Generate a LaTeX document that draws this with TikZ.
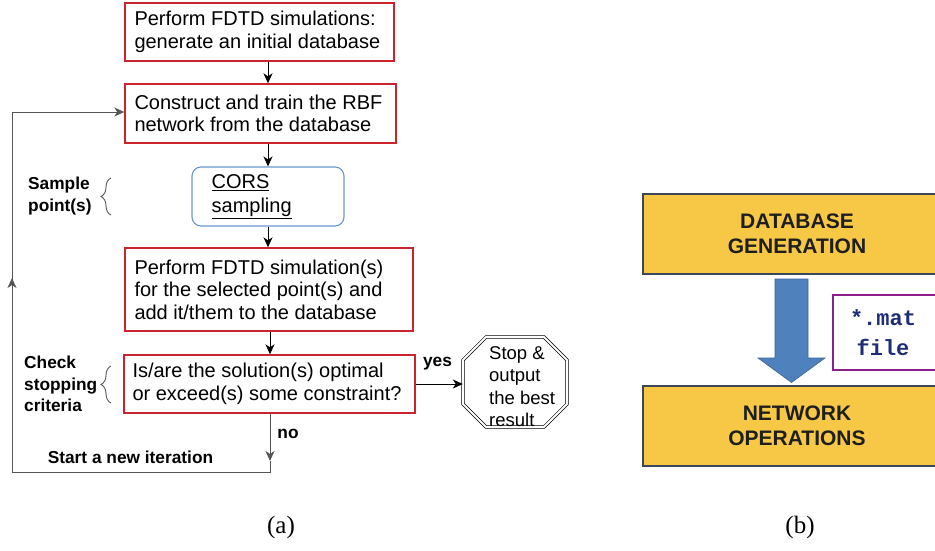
\documentclass[tikz,border=0pt]{standalone}
\usepackage{fontspec}
\setmainfont{Liberation Sans}
\newfontfamily\captionfont{Liberation Serif}
\newfontfamily\codefont{Liberation Mono}
\usetikzlibrary{arrows.meta,decorations.pathreplacing}

\definecolor{boxred}{RGB}{205,35,45}
\definecolor{corsblue}{RGB}{105,150,205}
\definecolor{goldfill}{RGB}{247,200,70}
\definecolor{slateedge}{RGB}{60,72,90}
\definecolor{arrowblue}{RGB}{79,129,189}
\definecolor{arrowedge}{RGB}{60,100,150}
\definecolor{matpurple}{RGB}{140,30,140}
\definecolor{matnavy}{RGB}{30,45,120}
\definecolor{loopgray}{RGB}{85,85,85}
\definecolor{inktext}{RGB}{30,30,30}

\begin{document}
\begin{tikzpicture}[x=1pt,y=-1pt,
  stepbox/.style={draw=boxred, line width=1.4pt, inner sep=0pt},
  corsbox/.style={draw=corsblue, line width=1.1pt, rounded corners=9pt, inner sep=0pt},
  steptext/.style={anchor=west, align=left, inner sep=0pt,
    font=\fontsize{20}{22.5}\selectfont},
  sidelabel/.style={font=\bfseries\fontsize{17.3}{21.5}\selectfont, align=left, inner sep=0pt},
  flowarrow/.style={draw=black, line width=0.9pt, -{Stealth[length=10pt,width=9pt,inset=3pt]}},
  loopline/.style={draw=loopgray, line width=0.9pt},
  looparrow/.style={loopline, -{Stealth[length=10pt,width=9pt,inset=3pt]}},
  sidebrace/.style={draw=loopgray, line width=0.9pt, decorate, decoration={brace, amplitude=10pt}},
  goldbox/.style={draw=slateedge, fill=goldfill, line width=1.5pt, minimum width=308pt,
    minimum height=80pt, align=center, text=inktext,
    font=\bfseries\fontsize{21}{25}\selectfont},
  caption/.style={font=\captionfont\fontsize{25}{28}\selectfont, inner sep=0pt}
]
\useasboundingbox (0,0) rectangle (935,550);
\clip (0,0) rectangle (935,550);

% ---------------- (a) iterative flowchart ----------------
\node[stepbox, minimum width=269pt, minimum height=58pt] (b1) at (259.5,32) {};
\node[steptext] (t1) at ([xshift=10pt]b1.west)
  {Perform FDTD simulations:\\generate an initial database};
\node[stepbox, minimum width=271pt, minimum height=59pt] (b2) at (260.5,113.5) {};
\node[steptext] (t2) at ([xshift=10pt]b2.west)
  {Construct and train the RBF\\network from the database};
\node[corsbox, minimum width=152pt, minimum height=59pt] (cors) at (268,196.5) {};
\node[steptext, font=\fontsize{20}{24}\selectfont] (tc) at ([xshift=20pt]cors.west)
  {\underline{CORS}\\\underline{sampling}};
\node[stepbox, minimum width=288pt, minimum height=83pt] (b3) at (269,289.5) {};
\node[steptext] (t3) at ([xshift=10pt]b3.west)
  {Perform FDTD simulation(s)\\for the selected point(s) and\\add it/them to the database};
\node[stepbox, minimum width=291pt, minimum height=58pt] (b4) at (269.5,384) {};
\node[steptext, font=\fontsize{20}{23.5}\selectfont] (t4) at ([xshift=9pt]b4.west)
  {Is/are the solution(s) optimal\\or exceed(s) some constraint?};

% stop octagon (double outline)
\node[minimum width=104pt, minimum height=90pt, inner sep=0pt] (stop) at (515,382) {};
\draw[line width=0.7pt, double=white, double distance=1.8pt, line join=miter]
  (486,337) -- (544,337) -- (567,360) -- (567,404) -- (544,427) -- (486,427)
  -- (463,404) -- (463,360) -- cycle;
\node[anchor=west, align=left, inner sep=0pt, font=\fontsize{18.5}{22.5}\selectfont]
  (stoptext) at (489,386.5) {Stop \&\\output\\the best\\result};

% main vertical axis
\coordinate (axisA) at (268,0);
\coordinate (axisB) at (270,0);
\draw[flowarrow] (b1.south -| axisA) -- (b2.north -| axisA);
\draw[flowarrow] (b2.south -| axisA) -- (cors.north -| axisA);
\draw[flowarrow] (cors.south -| axisA) -- (b3.north -| axisA);
\draw[flowarrow] (b3.south -| axisB) -- (b4.north -| axisB);

% yes branch
\draw[flowarrow] (b4.east) -- (b4.east -| stop.west);
\node[sidelabel, anchor=center] (yes) at (437.5,364) {yes};

% no branch: loop back to the RBF training step
\coordinate (noTip) at (270,461);
\coordinate (loopR) at (270,472);
\coordinate (loopL) at (12,472);
\coordinate (upTip) at (12,278);
\coordinate (loopTop) at (12,112);
\draw[looparrow] (b4.south -| axisB) -- (noTip);
\draw[loopline] (noTip) -- (loopR) -- (loopL) -- (upTip);
\draw[looparrow] (loopL) -- (upTip);
\draw[loopline] (upTip) -- (loopTop);
\draw[looparrow] (loopTop) -- (loopTop -| b2.west);
\node[sidelabel, anchor=center] (no) at (288,434) {no};
\node[sidelabel, anchor=center] (newiter) at (130.5,457) {Start a new iteration};

% side annotations with braces
\node[sidelabel, anchor=west] (sample) at (28,196) {Sample\\point(s)};
\draw[sidebrace] (111,215) -- (111,178);
\node[sidelabel, anchor=west] (check) at (24,384) {Check\\stopping\\criteria};
\draw[sidebrace] (111,403) -- (111,366);

% ---------------- (b) data hand-over ----------------
\node[goldbox] (dbgen) at (797,234) {DATABASE\\GENERATION};
\node[goldbox] (netops) at (797,426) {NETWORK\\OPERATIONS};
\draw[fill=arrowblue, draw=arrowedge, line width=0.6pt, line join=miter]
  (775,279) -- (808,279) -- (808,358) -- (825,358) -- (791.5,382.5)
  -- (758,358) -- (775,358) -- cycle;
\node[draw=matpurple, line width=1.5pt, minimum width=112pt, minimum height=75pt,
  inner sep=0pt] (matbox) at (889,332.5) {};
\node[align=center, inner sep=0pt, text=matnavy,
  font=\codefont\bfseries\fontsize{22}{30}\selectfont] (matlabel) at (883,333) {*.mat\\file};

% captions
\node[caption] (capa) at (281,527) {(a)};
\node[caption] (capb) at (800,527) {(b)};
\end{tikzpicture}
\end{document}
